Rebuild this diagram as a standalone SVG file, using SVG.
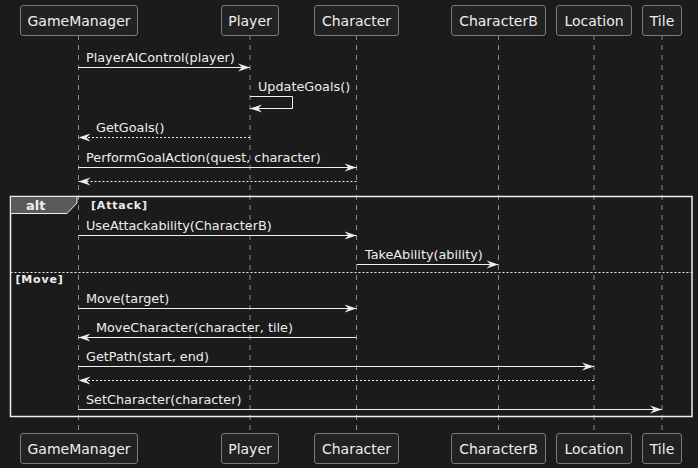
<svg xmlns="http://www.w3.org/2000/svg" width="698" height="468" viewBox="0 0 698 468">
<defs>
<marker id="ah" markerUnits="userSpaceOnUse" markerWidth="14" markerHeight="10" refX="12" refY="4" orient="auto" overflow="visible">
<path d="M0,0 L12,4 L0,8 L4,4 Z" fill="#eeeeee"/>
</marker>
<style>
.box{fill:#222222;stroke:#7a7a7a;stroke-width:1}
.pt{font-family:"DejaVu Sans",sans-serif;font-size:14px;fill:#eeeeee;text-anchor:middle}
.life{stroke:#8c8c8c;stroke-width:1;stroke-dasharray:5,5}
.msg{stroke:#eeeeee;stroke-width:1;fill:none;marker-end:url(#ah)}
.ret{stroke-dasharray:2,2}
.mt{font-family:"DejaVu Sans",sans-serif;font-size:12.8px;fill:#eeeeee}
.gt{font-family:"DejaVu Sans",sans-serif;font-size:11px;font-weight:bold;fill:#eeeeee;letter-spacing:0.8px}
</style>
</defs>
<rect width="698" height="468" fill="#1b1b1b"/>
<g id="lifelines">
<line class="life" x1="78.5" y1="35" x2="78.5" y2="433"/>
<line class="life" x1="250" y1="35" x2="250" y2="433"/>
<line class="life" x1="356.5" y1="35" x2="356.5" y2="433"/>
<line class="life" x1="498.5" y1="35" x2="498.5" y2="433"/>
<line class="life" x1="594" y1="35" x2="594" y2="433"/>
<line class="life" x1="662" y1="35" x2="662" y2="433"/>
</g>
<g id="GameManager">
<rect class="box" x="20.5" y="5.5" width="117" height="30" rx="2.5"/>
<text class="pt" x="79" y="25.5">GameManager</text>
<rect class="box" x="20.5" y="433.5" width="117" height="30" rx="2.5"/>
<text class="pt" x="79" y="453.5">GameManager</text>
</g>
<g id="Player">
<rect class="box" x="221.5" y="5.5" width="57" height="30" rx="2.5"/>
<text class="pt" x="250" y="25.5">Player</text>
<rect class="box" x="221.5" y="433.5" width="57" height="30" rx="2.5"/>
<text class="pt" x="250" y="453.5">Player</text>
</g>
<g id="Character">
<rect class="box" x="314.5" y="5.5" width="84" height="30" rx="2.5"/>
<text class="pt" x="356.5" y="25.5">Character</text>
<rect class="box" x="314.5" y="433.5" width="84" height="30" rx="2.5"/>
<text class="pt" x="356.5" y="453.5">Character</text>
</g>
<g id="CharacterB">
<rect class="box" x="451.5" y="5.5" width="94" height="30" rx="2.5"/>
<text class="pt" x="498.5" y="25.5">CharacterB</text>
<rect class="box" x="451.5" y="433.5" width="94" height="30" rx="2.5"/>
<text class="pt" x="498.5" y="453.5">CharacterB</text>
</g>
<g id="Location">
<rect class="box" x="556.5" y="5.5" width="75" height="30" rx="2.5"/>
<text class="pt" x="594" y="25.5">Location</text>
<rect class="box" x="556.5" y="433.5" width="75" height="30" rx="2.5"/>
<text class="pt" x="594" y="453.5">Location</text>
</g>
<g id="Tile">
<rect class="box" x="642.5" y="5.5" width="39" height="30" rx="2.5"/>
<text class="pt" x="662" y="25.5">Tile</text>
<rect class="box" x="642.5" y="433.5" width="39" height="30" rx="2.5"/>
<text class="pt" x="662" y="453.5">Tile</text>
</g>
<g id="alt-frame">
<rect x="10.5" y="196.5" width="681.5" height="220" fill="none" stroke="#eeeeee" stroke-width="1.5"/>
<path d="M10.5,196.5 H77 V203 L67,213.5 H10.5 Z" fill="#5a5a5a" stroke="#eeeeee" stroke-width="1"/>
<text x="26" y="209.5" font-family="DejaVu Sans, sans-serif" font-size="13" font-weight="bold" fill="#eeeeee">alt</text>
<text class="gt" x="91" y="208.5">[Attack]</text>
<line x1="10.5" y1="272.5" x2="692" y2="272.5" stroke="#eeeeee" stroke-width="1" stroke-dasharray="2,2"/>
<text class="gt" x="15.5" y="283">[Move]</text>
</g>
<g id="connectors">
<line class="msg" x1="78.5" y1="67.5" x2="250" y2="67.5"/>
<text class="mt" x="86" y="62">PlayerAIControl(player)</text>
<path class="msg" d="M250,96.5 H292.5 V108.5 H250"/>
<text class="mt" x="258" y="91">UpdateGoals()</text>
<line class="msg ret" x1="250" y1="137.5" x2="78.5" y2="137.5"/>
<text class="mt" x="96" y="132">GetGoals()</text>
<line class="msg" x1="78.5" y1="167.5" x2="356.5" y2="167.5"/>
<text class="mt" x="86" y="162">PerformGoalAction(quest, character)</text>
<line class="msg ret" x1="356.5" y1="181.5" x2="78.5" y2="181.5"/>
<line class="msg" x1="78.5" y1="235.5" x2="356.5" y2="235.5"/>
<text class="mt" x="86" y="230">UseAttackability(CharacterB)</text>
<line class="msg" x1="356.5" y1="264.5" x2="498.5" y2="264.5"/>
<text class="mt" x="365" y="259">TakeAbility(ability)</text>
<line class="msg" x1="78.5" y1="308.5" x2="356.5" y2="308.5"/>
<text class="mt" x="86" y="303">Move(target)</text>
<line class="msg" x1="356.5" y1="337.5" x2="78.5" y2="337.5"/>
<text class="mt" x="96" y="332">MoveCharacter(character, tile)</text>
<line class="msg" x1="78.5" y1="366.5" x2="594" y2="366.5"/>
<text class="mt" x="86" y="361">GetPath(start, end)</text>
<line class="msg ret" x1="594" y1="380.5" x2="78.5" y2="380.5"/>
<line class="msg" x1="78.5" y1="409.5" x2="662" y2="409.5"/>
<text class="mt" x="86" y="404">SetCharacter(character)</text>
</g>
</svg>
